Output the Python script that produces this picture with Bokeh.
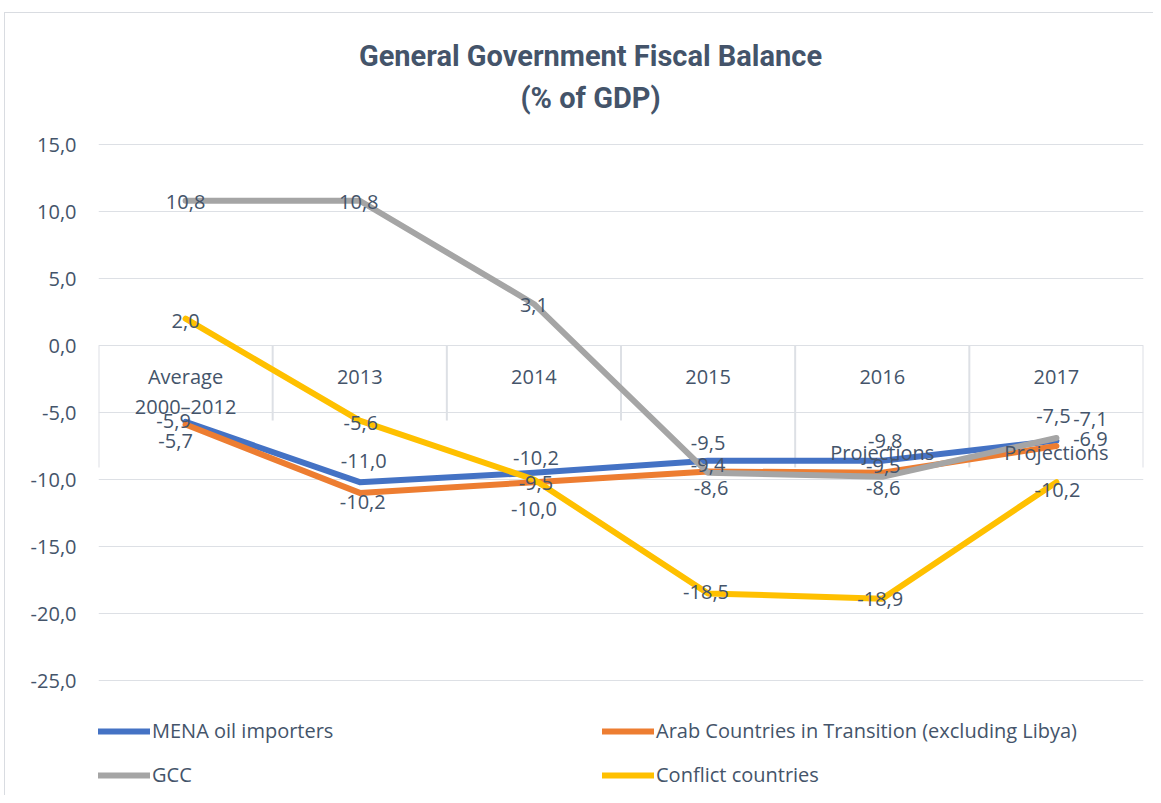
from bokeh.plotting import figure
from bokeh.models import (ColumnDataSource, Range1d, FixedTicker, Legend, LegendItem,
                          Label, CustomJSTickFormatter)
from bokeh.core.properties import value
from bokeh.embed import file_html
from bokeh.resources import INLINE

# ---------------- data ----------------
categories = ["Average\n2000\u20132012", "2013", "2014", "2015", "2016", "2017"]
mena_oil_importers = [-5.7, -10.2, -9.5, -8.6, -8.6, -7.1]
arab_transition = [-5.9, -11.0, -10.2, -9.4, -9.5, -7.5]
gcc = [10.8, 10.8, 3.1, -9.5, -9.8, -6.9]
conflict = [2.0, -5.6, -10.0, -18.5, -18.9, -10.2]
projection_labels = ["", "", "", "", "Projections", "Projections"]
projection_level = -8.0
y_ticks = [-25, -20, -15, -10, -5, 0, 5, 10, 15]

series_names = ["MENA oil importers", "Arab Countries in Transition (excluding Libya)",
                "GCC", "Conflict countries"]
title_lines = ["General Government Fiscal Balance", "(% of GDP)"]

# ---------------- styles / layout ----------------
colors = ["#4472C4", "#ED7D31", "#A5A5A5", "#FFC000"]
TEXT = "#44546A"
GRID = "#DDE0E5"
FONT = "Open Sans"
FS = "20px"
W, H = 1153, 795
PLOT_TOP, PLOT_BOTTOM = 144, 680          # pixel rows of the 15 / -25 gridlines
px_per_unit = (PLOT_BOTTOM - PLOT_TOP) / (y_ticks[-1] - y_ticks[0])
y_hi = y_ticks[-1] + PLOT_TOP / px_per_unit            # frame spans the whole height so that
y_lo = y_ticks[0] - (H - PLOT_BOTTOM) / px_per_unit    # title and legend can live inside it
# per-label pixel nudges (dx, dy) replicating the original label placement
label_dx = [[-10, 3, 2, 3, 1, 34], [-12, 4, 2, 0, 1, -3], [0, -1, 0, 0, 3, 34], [0, 1, 0, -2, -2, 1]]
label_dy = [[19, 20, 10, 27, 27, -22], [-4, -32, -24, -6, -7, -30], [1, 1, 1, -30, -36, 1], [2, 2, 29, -1, 0, 8]]
# category separators: reach of each separator below zero (style of the original axis)
sep_bottom = [-9.1, -5.6, -5.6, -5.6, -9.1, -9.1, -9.1]

xs = [i + 0.5 for i in range(len(categories))]
cat_line1 = [c.split("\n")[0] for c in categories]
cat_line2 = [c.split("\n")[1] if "\n" in c else "" for c in categories]

p = figure(width=W, height=H, x_range=Range1d(0, len(categories)), y_range=Range1d(y_lo, y_hi),
           output_backend="svg", toolbar_location=None,
           min_border_left=98, min_border_right=10, min_border_top=0, min_border_bottom=0)
p.title.visible = False
p.outline_line_color = None
p.background_fill_color = None
p.border_fill_color = None
p.styles = {
    "background": "linear-gradient(#D9DCE1,#D9DCE1) 4px 12px / 1px 100% no-repeat, "
                  "linear-gradient(#D9DCE1,#D9DCE1) 4px 12px / 100% 1px no-repeat, white"
}

p.xaxis.visible = False
p.xgrid.visible = False
p.ygrid.grid_line_color = GRID
p.ygrid.grid_line_width = 1
p.yaxis.ticker = FixedTicker(ticks=y_ticks)
p.ygrid.ticker = FixedTicker(ticks=y_ticks)
p.yaxis.formatter = CustomJSTickFormatter(code="return tick.toFixed(1).replace('.', ',');")
p.yaxis.axis_line_color = None
p.yaxis.major_tick_line_color = None
p.yaxis.minor_tick_line_color = None
p.yaxis.major_tick_out = 0
p.yaxis.major_tick_in = 0
p.yaxis.major_label_standoff = 22
p.yaxis.major_label_text_font = FONT
p.yaxis.major_label_text_font_size = FS
p.yaxis.major_label_text_color = TEXT

# category separators
sep_x = list(range(len(categories) + 1))
p.segment(x0=sep_x, y0=[0] * len(sep_x), x1=sep_x, y1=sep_bottom, line_color=GRID, line_width=2)

# category labels hanging from the zero line
for lines, off in [(cat_line1, 31), (cat_line2, 61)]:
    p.text(x=xs, y=[0] * len(xs), text=lines, text_align="center", text_baseline="middle",
           y_offset=off, text_font=value(FONT), text_font_size=FS, text_color=TEXT)

all_series = [mena_oil_importers, arab_transition, gcc, conflict]
items = []
for name, vals, col in zip(series_names, all_series, colors):
    r = p.line(xs, vals, line_color=col, line_width=6, line_join="round", line_cap="round")
    items.append(LegendItem(label=name, renderers=[r]))

for k, vals in enumerate(all_series):
    src = ColumnDataSource(dict(x=xs, y=vals,
                                t=[f"{v:.1f}".replace(".", ",") for v in vals],
                                dx=label_dx[k], dy=label_dy[k]))
    p.text(x="x", y="y", text="t", x_offset="dx", y_offset="dy", source=src,
           text_align="center", text_baseline="middle", text_font=value(FONT),
           text_font_size=FS, text_color=TEXT)

p.text(x=xs, y=[projection_level] * len(xs), text=projection_labels, text_align="center",
       text_baseline="middle", text_font=value(FONT), text_font_size=FS, text_color=TEXT)

legend = Legend(items=items, orientation="horizontal", ncols=2, location=(0, 7),
                glyph_width=52, glyph_height=26, label_height=26, label_width=433,
                label_standoff=2, spacing=17, padding=0, margin=0,
                border_line_color=None, background_fill_alpha=0,
                label_text_font=FONT, label_text_font_size=FS, label_text_color=TEXT)
p.add_layout(legend, "center")

for txt, yy in zip(title_lines, [H - 55, H - 97]):
    p.add_layout(Label(x=492, y=yy, x_units="screen", y_units="screen", text=txt,
                       text_align="center", text_baseline="middle", text_font="Roboto",
                       text_font_style="bold", text_font_size="29px", text_color=TEXT))

open("out.html", "w").write(file_html(p, INLINE))
